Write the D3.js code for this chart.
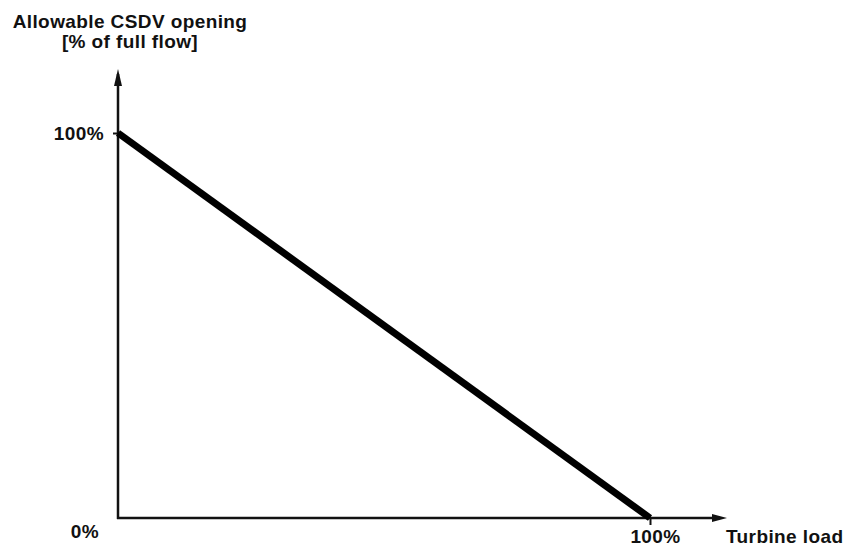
<!DOCTYPE html>
<html>
<head>
<meta charset="utf-8">
<script src="https://cdn.jsdelivr.net/npm/d3@7"></script>
<style>
  body { margin: 0; background: #fff; }
  text { font-family: "Liberation Sans", Arial, sans-serif; font-weight: bold; fill: #111; letter-spacing: 0.4px; }
</style>
</head>
<body>
<div id="chart"></div>
<script>
// turbine load [%] vs allowable CSDV opening [% of full flow]
var loadValues = [0, 100];
var openingValues = [100, 0];
var xTicks = [100];
var yTicks = [100];

var width = 845, height = 556;
var fs = 19;

var x = d3.scaleLinear().domain([0, 100]).range([118, 650]);
var y = d3.scaleLinear().domain([0, 100]).range([518, 133]);

var svg = d3.select("#chart").append("svg")
    .attr("width", width)
    .attr("height", height);

// axes with arrow heads
var axisColor = "#111";
svg.append("line")
    .attr("x1", x(0)).attr("y1", y(0) + 1)
    .attr("x2", x(0)).attr("y2", 74)
    .attr("stroke", axisColor).attr("stroke-width", 2.5);
svg.append("path")
    .attr("d", "M" + x(0) + ",69 L" + (x(0) - 4) + ",86 L" + (x(0) + 4) + ",86 Z")
    .attr("fill", axisColor);

svg.append("line")
    .attr("x1", x(0) - 1).attr("y1", y(0))
    .attr("x2", 720).attr("y2", y(0))
    .attr("stroke", axisColor).attr("stroke-width", 2.5);
svg.append("path")
    .attr("d", "M727," + y(0) + " L712," + (y(0) - 4) + " L712," + (y(0) + 4) + " Z")
    .attr("fill", axisColor);

// tick marks and labels through d3 axes
var xAxis = d3.axisBottom(x).tickValues(xTicks).tickSize(7).tickPadding(5)
    .tickFormat(function (d) { return d + "%"; });
var gx = svg.append("g").attr("transform", "translate(0," + y(0) + ")").call(xAxis);
gx.select(".domain").remove();
gx.selectAll(".tick line").attr("stroke", axisColor).attr("stroke-width", 2);
gx.selectAll(".tick text").attr("font-size", fs).attr("dx", 5).attr("fill", "#111");

var yAxis = d3.axisLeft(y).tickValues(yTicks).tickSize(5).tickPadding(9)
    .tickFormat(function (d) { return d + "%"; });
var gy = svg.append("g").attr("transform", "translate(" + x(0) + ",0)").call(yAxis);
gy.select(".domain").remove();
gy.selectAll(".tick line").attr("stroke", axisColor).attr("stroke-width", 2);
gy.selectAll(".tick text").attr("font-size", fs).attr("dy", "0.36em").attr("fill", "#111");

// origin label
svg.append("text")
    .attr("x", 85).attr("y", 538)
    .attr("text-anchor", "middle")
    .attr("font-size", fs)
    .text("0%");

// axis titles
svg.append("text")
    .attr("x", 726).attr("y", 543)
    .attr("font-size", fs)
    .text("Turbine load");

svg.append("text")
    .attr("x", 130).attr("y", 28)
    .attr("text-anchor", "middle")
    .attr("font-size", fs)
    .text("Allowable CSDV opening");
svg.append("text")
    .attr("x", 130).attr("y", 48)
    .attr("text-anchor", "middle")
    .attr("font-size", fs)
    .text("[% of full flow]");

// the characteristic line
var pts = loadValues.map(function (d, i) { return [d, openingValues[i]]; });
svg.append("path")
    .datum(pts)
    .attr("fill", "none")
    .attr("stroke", "#000")
    .attr("stroke-width", 7)
    .attr("d", d3.line()
        .x(function (d) { return x(d[0]); })
        .y(function (d) { return y(d[1]); }));
</script>
</body>
</html>
